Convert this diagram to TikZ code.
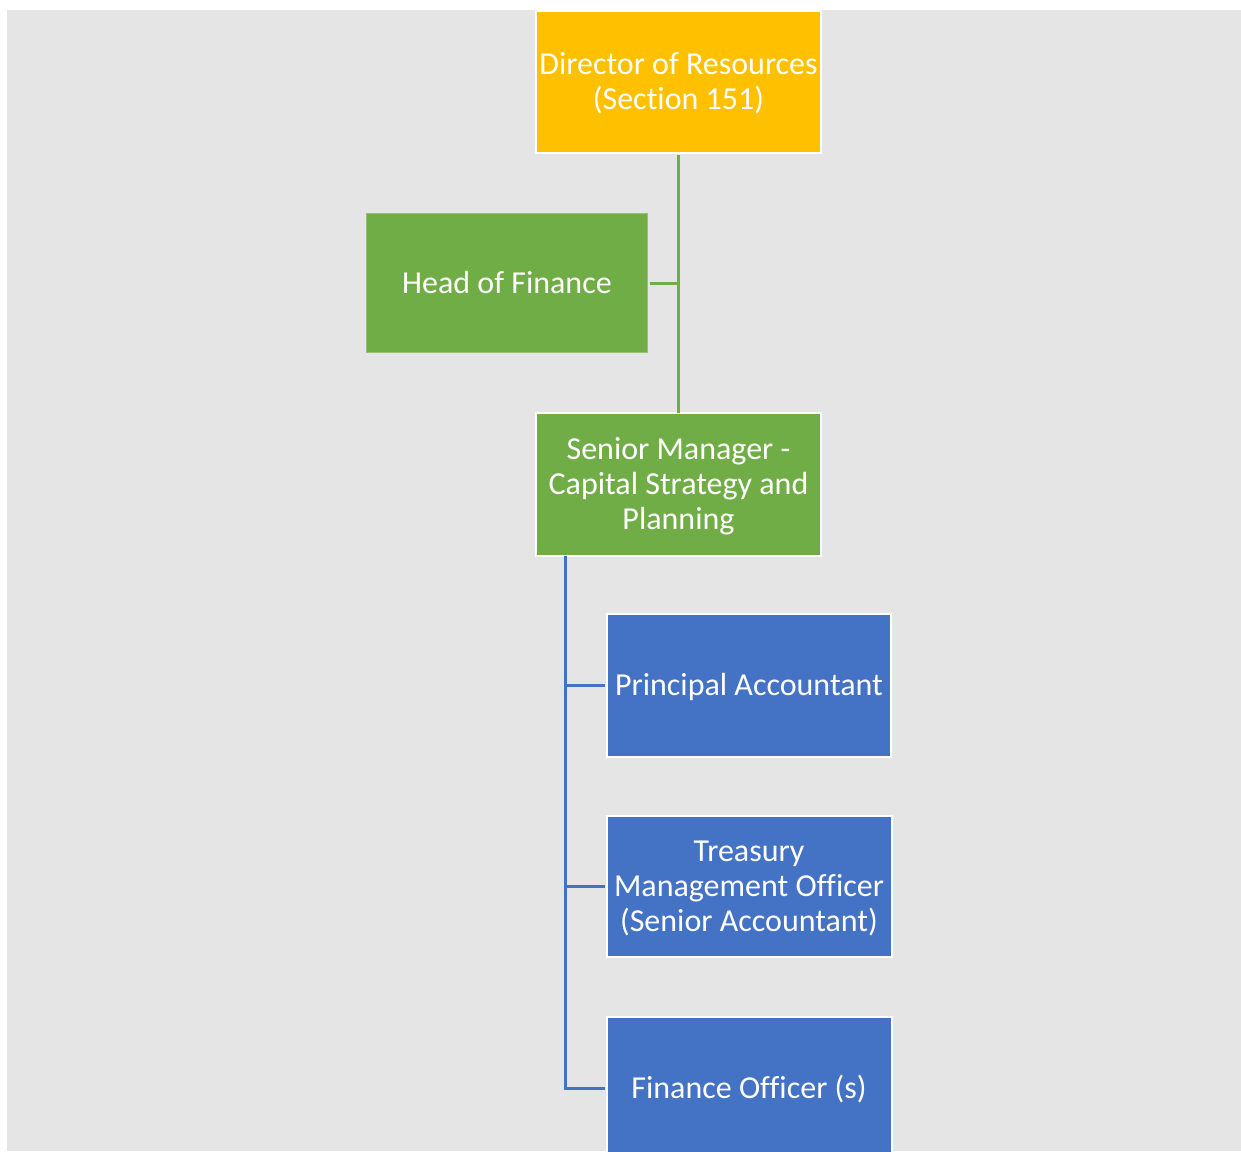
\documentclass[tikz,border=0pt]{standalone}
\usepackage{fontspec}
\setmainfont{Carlito}[Ligatures={NoCommon}]
\definecolor{bggray}{HTML}{E5E5E5}
\definecolor{gold}{HTML}{FFC000}
\definecolor{leafgreen}{HTML}{70AD47}
\definecolor{steelblue}{HTML}{4472C4}
\newcommand\boxlines[1]{\begin{tabular}{@{}c@{}}\rule{0pt}{31pt}#1\end{tabular}}
\begin{document}
\begin{tikzpicture}[x=1pt,y=-1pt,
  box/.style={rectangle, inner sep=0pt, text=white,
    font=\fontsize{32}{35}\selectfont, draw=white, line width=2pt},
  goldbox/.style={box, fill=gold},
  greenbox/.style={box, fill=leafgreen},
  bluebox/.style={box, fill=steelblue},
  gline/.style={draw=leafgreen, line width=3pt},
  bline/.style={draw=steelblue, line width=3pt}]
\useasboundingbox (0,0) rectangle (1241,1151);
\fill[white] (0,0) rectangle (1241,1151);
\fill[bggray] (7,10) rectangle (1241,1151);
\begin{scope}
\clip (0,0) rectangle (1241,1151);
\node[goldbox, minimum width=285pt, minimum height=142pt] (dir) at (678.5,82) {\boxlines{Director of Resources\\(Section 151)}};
\node[greenbox, draw=leafgreen!75!white, line width=1pt, minimum width=281pt, minimum height=139pt] (hof) at (507,283) {\boxlines{Head of Finance}};
\node[greenbox, minimum width=285pt, minimum height=143pt] (sm) at (678.5,484) {\boxlines{Senior Manager -\\Capital Strategy and\\Planning}};
\node[bluebox, minimum width=284pt, minimum height=143pt] (pa) at (749,685.5) {\boxlines{Principal Accountant}};
\node[bluebox, minimum width=285pt, minimum height=141pt] (tmo) at (749,886.5) {\boxlines{Treasury\\Management Officer\\(Senior Accountant)}};
\node[bluebox, minimum width=285pt, minimum height=143pt] (fo) at (749,1088) {\boxlines{Finance Officer (s)}};
\draw[gline] (dir.south) ++(0,1) -- ([yshift=-1pt]sm.north);
\draw[gline] ([xshift=2pt]hof.east) -- (hof.east -| dir.south);
\coordinate (trunk) at (565,556);
\draw[bline] (trunk) |- ([xshift=-1pt]fo.west);
\draw[bline] (trunk |- pa.west) -- ([xshift=-1pt]pa.west);
\draw[bline] (trunk |- tmo.west) -- ([xshift=-1pt]tmo.west);
\end{scope}
\end{tikzpicture}
\end{document}
